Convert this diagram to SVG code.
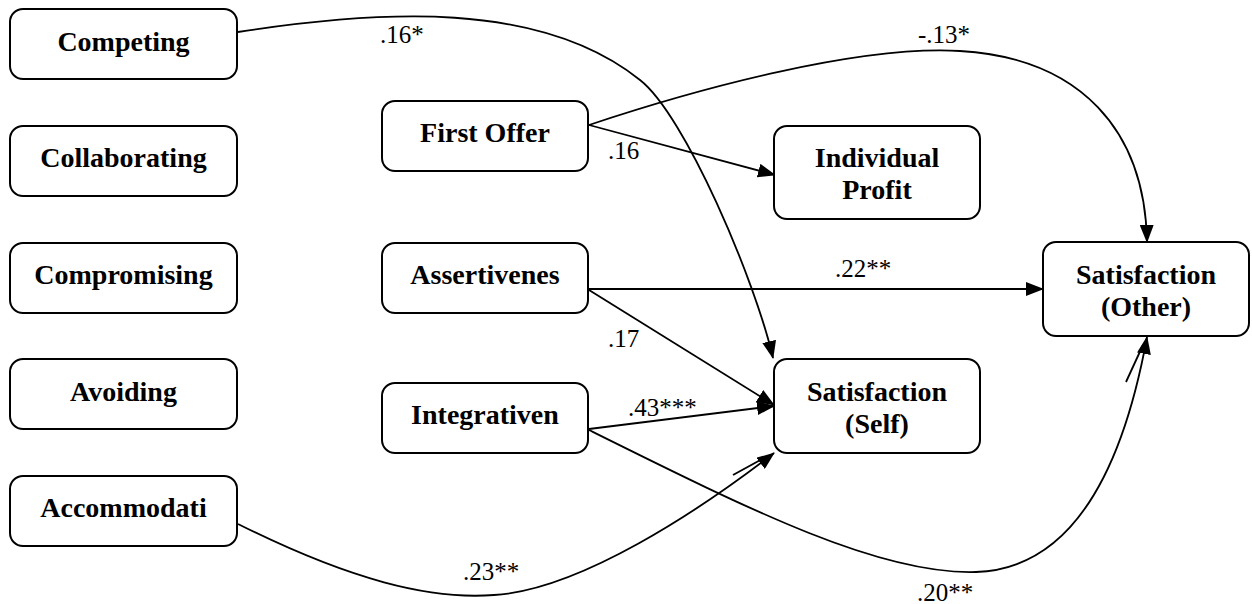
<svg xmlns="http://www.w3.org/2000/svg" width="1252" height="604" viewBox="0 0 1252 604">
<style>
.box{fill:#fff;stroke:#000;stroke-width:2}
.nt{font-family:"Liberation Serif","Times New Roman",serif;font-weight:bold;font-size:28px;text-anchor:middle;fill:#000}
.lb{font-family:"Liberation Serif","Times New Roman",serif;font-size:25px;fill:#000}
.ln{fill:none;stroke:#000;stroke-width:1.8}
.ar{marker-end:url(#ah)}
</style>
<defs>
<marker id="ah" markerUnits="userSpaceOnUse" markerWidth="18" markerHeight="14" refX="17" refY="7" orient="auto" viewBox="0 0 18 14">
<path d="M0,0 L18,7 L0,14 z" fill="#000"/>
</marker>
</defs>
<rect width="1252" height="604" fill="#fff"/>
<g id="connectors">
<path class="ln ar" d="M238,32 C380,10 540,0 640,80 C685,115 755,280 773,358"/>
<path class="ln ar" d="M589,125 C700,88 860,45 960,51 C1080,58 1145,130 1147,242"/>
<path class="ln ar" d="M589,125 L775,175"/>
<path class="ln ar" d="M589,289 L1043,289"/>
<path class="ln ar" d="M589,290 L774,405"/>
<path class="ln ar" d="M589,429 L774,406"/>
<path class="ln ar" d="M589,430 C750,510 880,575 976,572 C1090,568 1130,430 1147,337"/>
<path class="ln ar" d="M238,524 C350,580 430,600 494,595 C580,590 700,510 774,453"/>
<path class="ln" stroke-width="1.2" d="M733,475 L764,458"/>
<path class="ln" stroke-width="1.2" d="M1126,382 L1143,345"/>
</g>
<g id="n-competing"><rect class="box" x="10" y="9" width="227" height="70" rx="13"/><text class="nt" x="123.5" y="51">Competing</text></g>
<g id="n-collaborating"><rect class="box" x="10" y="126" width="227" height="70" rx="13"/><text class="nt" x="123.5" y="167">Collaborating</text></g>
<g id="n-compromising"><rect class="box" x="10" y="243" width="227" height="70" rx="13"/><text class="nt" x="123.5" y="284">Compromising</text></g>
<g id="n-avoiding"><rect class="box" x="10" y="359" width="227" height="70" rx="13"/><text class="nt" x="123.5" y="401">Avoiding</text></g>
<g id="n-accommodati"><rect class="box" x="10" y="476" width="227" height="70" rx="13"/><text class="nt" x="123.5" y="517">Accommodati</text></g>
<g id="n-firstoffer"><rect class="box" x="382" y="101" width="206" height="70" rx="13"/><text class="nt" x="485" y="142">First Offer</text></g>
<g id="n-assertivenes"><rect class="box" x="382" y="243" width="206" height="70" rx="13"/><text class="nt" x="485" y="284">Assertivenes</text></g>
<g id="n-integrativen"><rect class="box" x="382" y="383" width="206" height="70" rx="13"/><text class="nt" x="485" y="424">Integrativen</text></g>
<g id="n-profit"><rect class="box" x="774" y="126" width="206" height="93" rx="13"/><text class="nt" x="877" y="167">Individual</text><text class="nt" x="877" y="199">Profit</text></g>
<g id="n-satself"><rect class="box" x="774" y="359" width="206" height="94" rx="13"/><text class="nt" x="877" y="401">Satisfaction</text><text class="nt" x="877" y="433">(Self)</text></g>
<g id="n-satother"><rect class="box" x="1043" y="242" width="206" height="94" rx="13"/><text class="nt" x="1146" y="284">Satisfaction</text><text class="nt" x="1146" y="316">(Other)</text></g>
<g id="labels">
<text class="lb" x="380" y="43">.16*</text>
<text class="lb" x="918" y="43">-.13*</text>
<text class="lb" x="608" y="159">.16</text>
<text class="lb" x="835" y="277">.22**</text>
<text class="lb" x="608" y="347">.17</text>
<text class="lb" x="628" y="416">.43***</text>
<text class="lb" x="463" y="580">.23**</text>
<text class="lb" x="917" y="601">.20**</text>
</g>
</svg>
